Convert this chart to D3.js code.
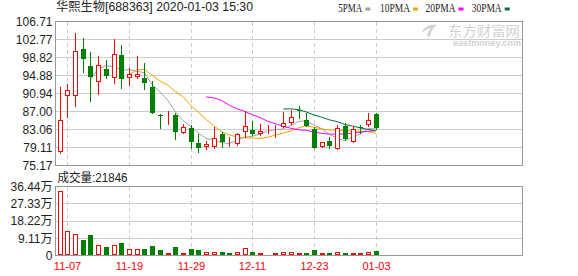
<!DOCTYPE html>
<html><head><meta charset="utf-8">
<script src="https://cdn.jsdelivr.net/npm/d3@7"></script>
<style>body{margin:0;background:#fff}svg{display:block}</style>
</head><body>
<svg id="c" width="578" height="276"></svg>
<script>
const dates = ["11-06","11-07","11-08","11-11","11-12","11-13","11-14","11-15","11-18","11-19","11-20","11-21","11-22","11-25","11-26","11-27","11-28","11-29",
"12-02","12-03","12-04","12-05","12-06","12-09","12-10","12-11","12-12","12-13","12-16","12-17","12-18","12-19","12-20","12-23","12-24","12-25","12-26","12-27","12-30","12-31",
"01-02","01-03"];
const opens  = [78.06,90.33,90.33,100.62,96.96,93.39,96.24,94.27,99.37,94.27,94.62,94.34,92.30,86.25,85.98,86.23,82.29,83.45,80.10,79.22,79.29,82.07,79.48,79.88,82.44,82.95,82.14,83.07,83.58,83.61,84.41,87.36,85.14,83.17,79.22,80.54,78.85,83.82,80.25,83.65,83.98,86.45];
const highs  = [92.30,92.96,104.13,103.03,100.03,99.15,98.21,102.88,101.56,96.46,99.22,97.62,93.61,86.52,87.17,86.61,84.33,83.98,82.07,80.54,83.67,82.58,81.48,82.35,87.11,84.98,84.26,83.98,83.98,86.89,87.39,88.20,86.74,83.67,80.40,81.48,84.04,84.41,83.82,84.11,86.61,86.60];
const lows   = [78.00,85.86,88.27,95.72,89.23,90.77,94.40,93.31,92.21,92.74,94.40,91.99,86.74,83.32,84.26,80.91,82.29,79.01,78.20,78.72,79.10,79.29,79.45,79.60,81.41,81.85,81.79,82.22,81.48,83.50,84.20,85.51,83.82,78.94,79.20,78.94,78.85,80.80,80.25,82.22,83.90,83.20];
const closes = [85.14,91.64,100.18,98.43,94.49,97.12,94.84,99.53,94.18,95.21,95.28,93.24,86.74,86.20,86.04,82.58,83.54,80.32,79.01,79.95,81.20,80.32,79.51,82.14,83.76,82.07,82.66,83.10,83.61,84.41,85.73,87.30,83.82,78.94,80.32,79.44,83.32,80.98,83.10,83.55,85.14,83.38];
const volumes = [33.9,13.1,11.5,8.0,10.7,5.7,4.3,5.7,6.4,3.2,3.6,3.2,4.8,2.7,1.4,4.3,1.4,3.2,2.7,2.0,2.0,2.1,1.1,1.8,4.1,1.6,1.2,0.9,1.4,2.0,2.0,1.4,1.1,2.7,1.4,1.1,2.0,1.1,1.1,1.4,2.1,2.18];
const volUp = [1,1,1,0,0,1,0,1,0,1,1,0,0,0,1,0,1,0,0,1,1,0,0,1,1,0,1,1,1,1,1,1,0,0,1,0,1,0,1,1,1,0];
const priceTicks = [75.17,79.11,83.06,87.00,90.94,94.88,98.82,102.77,106.71];
const volTicks = [0,9.11,18.22,27.33,36.44];
const dateTicks = ["11-07","11-19","11-29","12-11","12-23","01-03"];
const maPeriods = [5,10,20,30];
const maNames = ["5PMA","10PMA","20PMA","30PMA"];
const maColors = ["#a0a0a0","#f5a000","#ff00ff","#00703a"];
const titleText = "华熙生物[688363] 2020-01-03 15:30";
const volTitle = "成交量:21846";

const RED = "#ff0000", GREEN = "#008000", GRID = "#cccccc", BORDER = "#999999", LABEL = "#1e1e1e";
const L = 55.5, R = 522.5, T = 21.5, B = 165.5, VT = 186.5, VB = 255.5;

const svg = d3.select("#c");
const x = d3.scaleLinear().domain([0, dates.length - 1]).range([59.6, 375.7]);
const cx = i => Math.round(x(i));
const y = d3.scaleLinear().domain([75.17, 106.71]).range([B, T]);
const vy = d3.scaleLinear().domain([0, 36.44]).range([VB, VT]);
const snap = v => Math.round(v - 0.5) + 0.5;

// grids
const g = svg.append("g").attr("shape-rendering", "crispEdges");
g.selectAll(".pg").data(priceTicks).join("line")
  .attr("x1", L).attr("x2", R).attr("y1", d => snap(y(d))).attr("y2", d => snap(y(d)))
  .attr("stroke", GRID);
g.selectAll(".vg").data(volTicks).join("line")
  .attr("x1", L).attr("x2", R).attr("y1", d => snap(vy(d))).attr("y2", d => snap(vy(d)))
  .attr("stroke", GRID);
const tickIdx = dateTicks.map(t => dates.indexOf(t));
[[T, B], [VT, VB]].forEach(([a, b]) => {
  g.append("g").selectAll("line").data(tickIdx).join("line")
    .attr("x1", i => cx(i) + 0.5).attr("x2", i => cx(i) + 0.5)
    .attr("y1", a).attr("y2", b)
    .attr("stroke", GRID).attr("stroke-dasharray", "4,3");
});

// watermark
const wm = svg.append("g").attr("fill", "#d2d2d2");
wm.append("path").attr("d", "M421,33 C425,26 431,24 437,25 C433,28 431,31 430,37 L427,36 C428,32 429,30 431,28 C427,29 424,31 421,33 Z M428,38 L426,39 L426,40 L428,39 Z");
wm.append("text").attr("x", 448).attr("y", 35.5).attr("font-family", "'Liberation Sans', 'Noto Sans CJK SC'").attr("font-size", 13.5).attr("textLength", 72).attr("lengthAdjust","spacingAndGlyphs").text("东方财富网");
wm.append("text").attr("x", 453).attr("y", 46.3).attr("font-family", "Liberation Sans").attr("font-weight", "bold").attr("font-size", 8.3).attr("textLength", 68).attr("lengthAdjust","spacingAndGlyphs").text("eastmoney.com");

// borders
const bd = svg.append("g").attr("shape-rendering", "crispEdges").attr("fill", "none").attr("stroke", BORDER);
bd.append("rect").attr("x", L).attr("y", T).attr("width", R - L).attr("height", B - T);
bd.append("rect").attr("x", L).attr("y", VT).attr("width", R - L).attr("height", VB - VT);

// MA lines
const lineGen = d3.line().defined(d => d[1] != null).x(d => x(d[0])).y(d => y(d[1]));
maPeriods.forEach((n, k) => {
  const vals = closes.map((c, i) => i < n - 1 ? null : d3.mean(closes.slice(i - n + 1, i + 1)));
  svg.append("path").datum(vals.map((v, i) => [i, v]))
    .attr("d", lineGen).attr("fill", "none").attr("stroke", maColors[k]).attr("stroke-width", 1);
});

// candles
const cg = svg.append("g").attr("shape-rendering", "crispEdges");
const idx = d3.range(dates.length);
cg.selectAll(".wick").data(idx).join("line")
  .attr("x1", i => cx(i) + 0.5).attr("x2", i => cx(i) + 0.5)
  .attr("y1", i => Math.round(y(highs[i]))).attr("y2", i => Math.round(y(lows[i])) + 1)
  .attr("stroke", i => closes[i] >= opens[i] ? RED : GREEN);
cg.selectAll(".body").data(idx).join("rect")
  .each(function (i) {
    const up = closes[i] >= opens[i];
    const top = Math.round(y(Math.max(opens[i], closes[i])));
    const bot = Math.round(y(Math.min(opens[i], closes[i])));
    const h = Math.max(bot - top, 0);
    const s = d3.select(this);
    if (up) {
      s.attr("x", cx(i) - 1.5).attr("y", top + 0.5).attr("width", 4).attr("height", Math.max(h - 1, 0))
        .attr("fill", "#fff").attr("stroke", RED);
      if (h < 1) s.attr("height", 0);
    } else {
      s.attr("x", cx(i) - 2).attr("y", top).attr("width", 5).attr("height", Math.max(h, 1)).attr("fill", GREEN);
    }
  });

// volume bars
cg.selectAll(".vol").data(idx).join("rect")
  .each(function (i) {
    const top = Math.round(vy(volumes[i]));
    const h = Math.round(VB - 0.5) - top;
    const s = d3.select(this);
    if (volUp[i]) {
      s.attr("x", cx(i) - 1.5).attr("y", top + 0.5).attr("width", 4).attr("height", Math.max(h - 1, 0))
        .attr("fill", "#fff").attr("stroke", RED);
    } else {
      s.attr("x", cx(i) - 2).attr("y", top).attr("width", 5).attr("height", h).attr("fill", GREEN);
    }
  });

// axes labels
const ax = svg.append("g").attr("font-family", "Liberation Sans, Arial, sans-serif").attr("font-size", 12).attr("fill", LABEL).attr("text-anchor", "end");
ax.selectAll(".pl").data(priceTicks).join("text")
  .attr("x", 52.5).attr("y", d => y(d)).attr("dy", "0.36em").text(d => d.toFixed(2));
ax.selectAll(".vl").data(volTicks).join("text")
  .attr("x", 52.5).attr("y", d => vy(d)).attr("dy", "0.36em")
  .attr("font-family", "Liberation Sans, 'Noto Sans CJK SC', sans-serif")
  .text(d => d === 0 ? "0" : d.toFixed(2) + "万");

svg.append("g").attr("font-family", "Liberation Sans, Arial, sans-serif").attr("font-size", 11).attr("fill", RED).attr("text-anchor", "middle")
  .selectAll("text").data(tickIdx).join("text")
  .attr("x", i => cx(i) + 0.5).attr("y", 269.5).text(i => dates[i]);

// title
svg.append("text").attr("x", 56).attr("y", 11).attr("font-family", "'Liberation Sans', 'Noto Sans CJK SC', sans-serif").attr("font-size", 12)
  .attr("fill", "#222").attr("textLength", 197).attr("lengthAdjust", "spacingAndGlyphs").text(titleText);
svg.append("text").attr("x", 57.5).attr("y", 182).attr("font-family", "'Liberation Sans', 'Noto Sans CJK SC', sans-serif").attr("font-size", 12)
  .attr("fill", "#222").attr("textLength", 70).attr("lengthAdjust", "spacingAndGlyphs").text(volTitle);

// legend
const legX = [338.3, 380, 425.5, 471.7];
const legW = [24, 30, 30, 30];
const lg = svg.append("g").attr("font-family", "'Liberation Serif', serif").attr("font-size", 12).attr("fill", "#222");
maNames.forEach((nm, k) => {
  lg.append("text").attr("x", legX[k]).attr("y", 11.5).attr("textLength", legW[k]).attr("lengthAdjust", "spacingAndGlyphs").text(nm);
  lg.append("rect").attr("x", legX[k] + legW[k] + 3).attr("y", 7.5).attr("width", 5).attr("height", 3).attr("fill", maColors[k]);
});
</script>
</body></html>
